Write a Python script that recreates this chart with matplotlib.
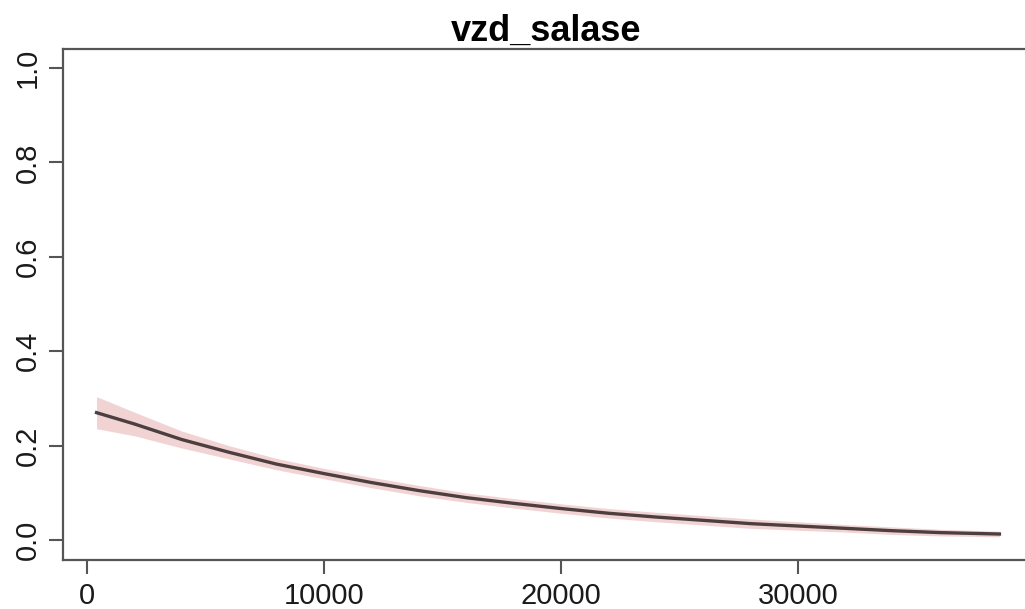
import matplotlib
matplotlib.use("Agg")
import matplotlib.pyplot as plt
import numpy as np

plt.rcParams['font.family'] = ['Liberation Sans', 'DejaVu Sans']

# odhad z obrazku
vzd = np.array([400, 2000, 4000, 6000, 8000, 10000, 12000, 14000, 16000, 18000,
                20000, 22000, 24000, 26000, 28000, 30000, 32000, 34000, 36000, 38500])
pred = np.array([0.270, 0.246, 0.213, 0.186, 0.161, 0.141, 0.122, 0.105, 0.090, 0.078,
                 0.067, 0.057, 0.049, 0.042, 0.035, 0.030, 0.025, 0.020, 0.016, 0.013])
polosirka = np.array([0.034, 0.025, 0.018, 0.014, 0.012, 0.011, 0.011, 0.011, 0.010, 0.010,
                      0.010, 0.010, 0.010, 0.010, 0.010, 0.009, 0.008, 0.008, 0.007, 0.006])
xticks = [0, 10000, 20000, 30000]
yticks = [0.0, 0.2, 0.4, 0.6, 0.8, 1.0]

fig = plt.figure(figsize=(10.25, 6.09), dpi=100)
ax = fig.add_axes([63/1025, 1-560/609, (1030-63)/1025, (560-49)/609])

ax.fill_between(vzd, pred - polosirka, pred + polosirka, color='#f2d3d3', lw=0)
ax.plot(vzd, pred, color='#4d3f3f', lw=2.4)

ax.set_xlim(-1015, 39790)
ax.set_ylim(-0.042, 1.040)
ax.set_xticks(xticks)
ax.set_xticklabels([str(t) for t in xticks])
ax.set_yticks(yticks)
ax.set_yticklabels(['%.1f' % t for t in yticks], rotation=90, va='center')

for s in ax.spines.values():
    s.set_color('#555555')
    s.set_linewidth(1.6)
ax.tick_params(length=10, width=1.5, color='#555555', labelsize=21, labelcolor='#1a1a1a')
ax.tick_params(axis='x', pad=6)
ax.tick_params(axis='y', pad=5)

ax.set_title('vzd_salase', fontsize=26, fontweight='bold', pad=1)

fig.savefig('out.png', dpi=100)
